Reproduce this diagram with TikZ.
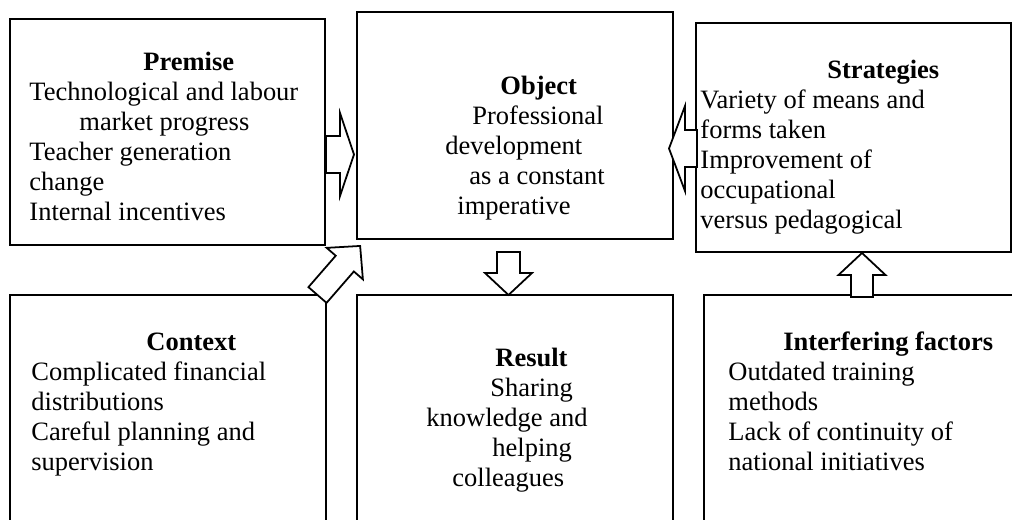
\documentclass[tikz,border=0pt]{standalone}
\usepackage{fontspec}
\setmainfont{Liberation Serif}
\newlength\pxlen
\setlength\pxlen{0.453pt}
\tikzset{
  box/.style={draw, line width=0.9pt, rectangle, inner sep=0pt},
  boxtext/.style={anchor=north west, inner sep=0pt, align=left,
    font=\fontsize{12}{13.6}\selectfont},
  arrowline/.style={draw, fill=white, line width=0.8pt, line join=miter}
}
% #1 base, #2 angle, #3 length, #4 head length, #5 half shaft, #6 half head
\newcommand{\fatarrow}[6]{%
  \draw[arrowline, shift={(#1)}, rotate=#2] (0,-#5) -- (#3-#4,-#5) -- (#3-#4,-#6)
    -- (#3,0) -- (#3-#4,#6) -- (#3-#4,#5) -- (0,#5) -- cycle;}
\begin{document}
\begin{tikzpicture}[x=0.453pt,y=-0.453pt]
                \useasboundingbox (0,0) rectangle (1012,520);
                \clip (0,0) rectangle (1012,520);
                % boxes
                \node[box, minimum width=315*\pxlen, minimum height=226*\pxlen] (premise) at (167.5,132) {};
                \node[box, minimum width=316*\pxlen, minimum height=227*\pxlen] (object) at (515,125.5) {};
                \node[box, minimum width=315*\pxlen, minimum height=229*\pxlen] (strategies) at (853.5,137.5) {};
                \node[box, minimum width=316*\pxlen, minimum height=260*\pxlen] (context) at (168,425) {};
                \node[box, minimum width=316*\pxlen, minimum height=260*\pxlen] (result) at (515,425) {};
                \node[box, minimum width=336*\pxlen, minimum height=260*\pxlen] (interfering) at (872,425) {};
                % texts
                \node[boxtext] (premisetext) at (29,49) {\strut\hspace*{114\pxlen}\textbf{Premise}\\
                  Technological and labour\\ \hspace*{50\pxlen}market progress\\
                  Teacher generation\\ change\\ Internal incentives};
                \node[boxtext] (objecttext) at (445,73) {\strut\hspace*{55\pxlen}\textbf{Object}\\
                  \hspace*{27\pxlen}Professional\\ development\\
                  \hspace*{24\pxlen}as a constant\\ \hspace*{12\pxlen}imperative};
                \node[boxtext] (strategiestext) at (700,57) {\strut\hspace*{127\pxlen}\textbf{Strategies}\\
                  Variety of means and\\ forms taken\\ Improvement of\\
                  occupational\\ versus pedagogical};
                \node[boxtext] (contexttext) at (31,329) {\strut\hspace*{115\pxlen}\textbf{Context}\\
                  Complicated financial\\ distributions\\
                  Careful planning and\\ supervision};
                \node[boxtext] (resulttext) at (426,345) {\strut\hspace*{69\pxlen}\textbf{Result}\\
                  \hspace*{64\pxlen}Sharing\\ knowledge and\\
                  \hspace*{66\pxlen}helping\\ \hspace*{26\pxlen}colleagues};
                \node[boxtext] (interferingtext) at (728,329) {\strut\hspace*{55\pxlen}\textbf{Interfering factors}\\
                  Outdated training\\ methods\\
                  Lack of continuity of\\ national initiatives};
                % arrows
                \coordinate (pa) at (326,154.5);
                \coordinate (sa) at (697,148.5);
                \coordinate (oa) at (508.5,252);
                \coordinate (ia) at (862,297);
                \coordinate (ca) at (317.5,295);
                \fatarrow{pa}{0}{28}{14}{18.5}{41.5}
                \fatarrow{sa}{180}{28}{16}{18.5}{42.5}
                \fatarrow{oa}{-90}{43}{22}{11.5}{23.5}
                \fatarrow{ia}{90}{44}{22}{11}{23.5}
                \fatarrow{ca}{49}{65}{23.4}{12}{24}
            \end{tikzpicture}
\end{document}
